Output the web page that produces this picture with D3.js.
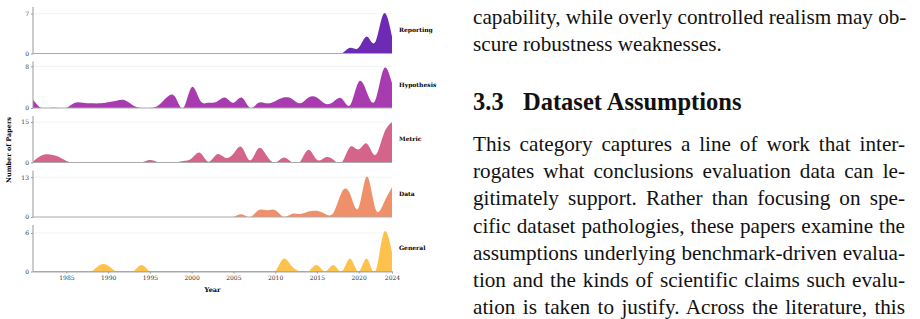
<!DOCTYPE html>
<html>
<head>
<meta charset="utf-8">
<script src="https://cdn.jsdelivr.net/npm/d3@7"></script>
<style>
  body { margin: 0; background: #fff; width: 920px; height: 319px; overflow: hidden; position: relative; }
  svg text { font-family: "DejaVu Serif", serif; }
  .para { position: absolute; left: 473px; width: 432px; font-family: "Liberation Serif", "Times New Roman", serif;
          font-size: 21.2px; line-height: 27.2px; color: #111; }
  .para div { text-align: justify; text-align-last: justify; white-space: nowrap; }
  .para div.last { text-align: left; text-align-last: left; }
  .head { position: absolute; font-family: "Liberation Serif", "Times New Roman", serif;
          font-size: 24.5px; font-weight: bold; color: #111; line-height: 24px; white-space: nowrap; }
</style>
</head>
<body>
<script>
// yearly paper counts per category
const years = [1981, 1982, 1983, 1984, 1985, 1986, 1987, 1988, 1989, 1990,
  1991, 1992, 1993, 1994, 1995, 1996, 1997, 1998, 1999, 2000,
  2001, 2002, 2003, 2004, 2005, 2006, 2007, 2008, 2009, 2010,
  2011, 2012, 2013, 2014, 2015, 2016, 2017, 2018, 2019, 2020,
  2021, 2022, 2023, 2024];

const categories = ["Reporting", "Hypothesis", "Metric", "Data", "General"];

const reporting = [0, 0, 0, 0, 0, 0, 0, 0, 0, 0,
  0, 0, 0, 0, 0, 0, 0, 0, 0, 0,
  0, 0, 0, 0, 0, 0, 0, 0, 0, 0,
  0, 0, 0, 0, 0, 0, 0, 0, 1, 1,
  3, 2, 7, 3];

const hypothesis = [1.6, 0, 0, 0, 0, 1, 1, 0.9, 0.9, 1.1,
  1.4, 1.5, 0.5, 0, 0, 0.5, 2, 2.2, 0, 4,
  1.5, 1, 1.2, 2, 1, 2, 0, 1, 0.9, 1.3,
  2, 1.8, 0.9, 2, 2, 0.8, 1.2, 1.8, 0.6, 5,
  3, 1.5, 7.5, 4.8];

const metric = [0.3, 2.6, 3, 2.2, 0.6, 0, 0, 0, 0, 0,
  0, 0, 0, 0, 0.9, 0.1, 0, 0, 0.6, 1.5,
  3.6, 0.3, 3, 1.8, 3.2, 5.7, 0.8, 5.3, 2.5, 0,
  1.8, 0, 0.3, 4.7, 1, 1.9, 1, 0, 5.8, 4.8,
  7, 2.8, 10.5, 15];

const dataCat = [0, 0, 0, 0, 0, 0, 0, 0, 0, 0,
  0, 0, 0, 0, 0, 0, 0, 0, 0, 0,
  0, 0, 0, 0, 0, 0.9, 0, 2.2, 2.2, 2.3,
  0.1, 1, 1, 1.8, 2, 1, 1.5, 8.2, 7.4, 3,
  13.2, 2.8, 4.5, 9.7];

const general = [0, 0, 0, 0, 0, 0, 0, 0, 1, 0.9,
  0, 0, 0, 1, 0, 0, 0, 0, 0, 0,
  0, 0, 0, 0, 0, 0, 0, 0, 0, 0,
  2, 0.8, 0, 0, 1, 0, 1, 0, 2, 0,
  2, 0, 6, 3];

const series = [reporting, hypothesis, metric, dataCat, general];
const maxTicks = [7, 8, 15, 13, 6];
const xTicks = [1985, 1990, 1995, 2000, 2005, 2010, 2015, 2020, 2024];

const colors = ["#6d2ab3", "#a83bb0", "#d5648b", "#f0906b", "#fdc24b"];

// layout
const left = 33, right = 392;
const panelTop = 7, step = 54.5, panelH = 46.5;

const svg = d3.select("body").append("svg")
  .attr("width", 460).attr("height", 319)
  .style("position", "absolute").style("left", 0).style("top", 0);

const x = d3.scaleLinear().domain([years[0], years[years.length - 1]]).range([left, right]);
const defs = svg.append("defs");

series.forEach((vals, i) => {
  const top = panelTop + i * step, base = top + panelH;
  const pts = years.map((yr, j) => ({year: yr, v: vals[j]}));

  defs.append("clipPath").attr("id", "clip" + i)
    .append("rect").attr("x", left).attr("y", top - 5).attr("width", right - left).attr("height", base - top + 5);

  const g = svg.append("g");
  const y = d3.scaleLinear().domain([0, maxTicks[i]]).range([base, top]);

  const area = d3.area()
    .x(d => x(d.year))
    .y0(base)
    .y1(d => y(d.v))
    .curve(d3.curveNatural);

  const grid = g.append("line")
    .attr("x1", left).attr("x2", right)
    .attr("stroke", "#f0f0f0").attr("stroke-width", 0.8);

  const path = g.append("path")
    .datum(pts)
    .attr("clip-path", `url(#clip${i})`)
    .attr("fill", colors[i])
    .attr("d", area);

  // leave some headroom above the smoothed peak
  const peak = y.invert(path.node().getBBox().y);
  y.domain([0, peak * 1.15]);
  path.attr("d", area);
  grid.attr("y1", y(maxTicks[i])).attr("y2", y(maxTicks[i]));

  // baseline
  g.append("line")
    .attr("x1", left).attr("x2", right)
    .attr("y1", base).attr("y2", base)
    .attr("stroke", "#aaa").attr("stroke-width", 1.2);

  // y axis
  const ya = g.append("g")
    .attr("transform", `translate(${left},0)`)
    .call(d3.axisLeft(y).tickValues([0, maxTicks[i]]).tickSize(2).tickSizeOuter(0).tickPadding(2));
  ya.select(".domain").attr("stroke", "#999").attr("d", `M0,${top}V${base}`);
  ya.selectAll(".tick line").attr("stroke", "#999");
  ya.selectAll("text").attr("font-size", 6).attr("fill", "#333").style("font-family", "DejaVu Serif, serif");

  // category label
  g.append("text")
    .attr("x", 399).attr("y", top + panelH / 2 + 2)
    .attr("font-size", 6).attr("font-weight", "bold")
    .text(categories[i]);

  if (i === series.length - 1) {
    const xa = g.append("g")
      .attr("transform", `translate(0,${base})`)
      .call(d3.axisBottom(x).tickValues(xTicks).tickFormat(d3.format("d")).tickSize(2).tickSizeOuter(0).tickPadding(2));
    xa.select(".domain").attr("stroke", "#aaa");
    xa.selectAll(".tick line").attr("stroke", "#999");
    xa.selectAll("text").attr("font-size", 6).attr("fill", "#333").style("font-family", "DejaVu Serif, serif");
  }
});

svg.append("text")
  .attr("x", (left + right) / 2).attr("y", 292)
  .attr("text-anchor", "middle")
  .attr("font-size", 6.5).attr("font-weight", "bold")
  .text("Year");

svg.append("text")
  .attr("transform", "translate(11,150) rotate(-90)")
  .attr("text-anchor", "middle")
  .attr("font-size", 6.5).attr("font-weight", "bold")
  .text("Number of Papers");

// surrounding paper text
const para1 = ["capability, while overly controlled realism may ob-"];
const para1Last = "scure robustness weaknesses.";
const para2 = [
  "This category captures a line of work that inter-",
  "rogates what conclusions evaluation data can le-",
  "gitimately support. Rather than focusing on spe-",
  "cific dataset pathologies, these papers examine the",
  "assumptions underlying benchmark-driven evalua-",
  "tion and the kinds of scientific claims such evalu-",
  "ation is taken to justify. Across the literature, this"
];

const p1 = d3.select("body").append("div").attr("class", "para").style("top", "4px");
p1.selectAll("div.l").data(para1).join("div").attr("class", "l").text(d => d);
p1.append("div").attr("class", "last").text(para1Last);

d3.select("body").append("div").attr("class", "head").style("top", "90px").style("left", "473px").text("3.3");
d3.select("body").append("div").attr("class", "head").style("top", "90px").style("left", "523px").text("Dataset Assumptions");

const p2 = d3.select("body").append("div").attr("class", "para").style("top", "131px");
p2.selectAll("div").data(para2).join("div").text(d => d);
</script>
</body>
</html>
